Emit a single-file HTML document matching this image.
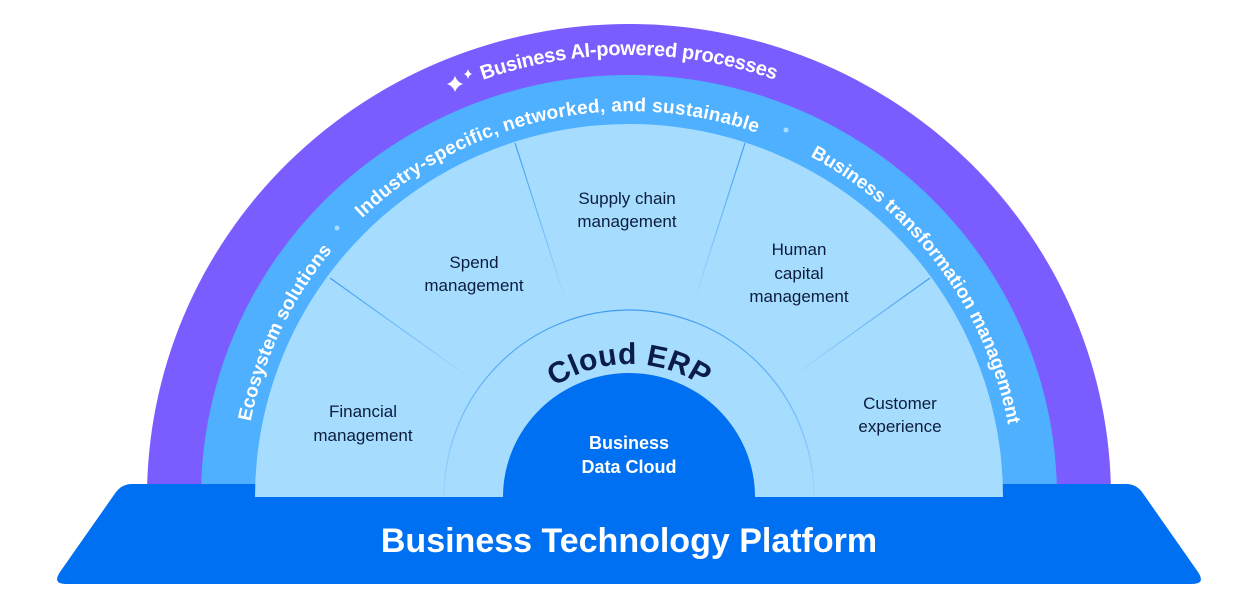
<!DOCTYPE html>
<html><head><meta charset="utf-8"><style>
html,body{margin:0;padding:0;background:#fff;}
svg{display:block;}
text{font-family:"Liberation Sans",sans-serif;}
</style></head><body>
<svg width="1248" height="612" viewBox="0 0 1248 612" xmlns="http://www.w3.org/2000/svg">
<defs>
<path id="pP" d="M187,497 A442,442 0 0 1 1071,497"/>
<path id="pB" d="M243,497 A386,386 0 0 1 1015,497"/>
<path id="pC" d="M496,497 A133,133 0 0 1 762,497"/>
<linearGradient id="g1" gradientUnits="userSpaceOnUse" x1="515" y1="143" x2="567" y2="305"><stop offset="0" stop-color="#3f9bf0"/><stop offset="1" stop-color="#3f9bf0" stop-opacity="0"/></linearGradient>
<linearGradient id="g2" gradientUnits="userSpaceOnUse" x1="745" y1="143" x2="693" y2="305"><stop offset="0" stop-color="#3f9bf0"/><stop offset="1" stop-color="#3f9bf0" stop-opacity="0"/></linearGradient>
<linearGradient id="g3" gradientUnits="userSpaceOnUse" x1="330" y1="278" x2="470" y2="378"><stop offset="0" stop-color="#3f9bf0"/><stop offset="1" stop-color="#3f9bf0" stop-opacity="0"/></linearGradient>
<linearGradient id="g4" gradientUnits="userSpaceOnUse" x1="930" y1="278" x2="790" y2="378"><stop offset="0" stop-color="#3f9bf0"/><stop offset="1" stop-color="#3f9bf0" stop-opacity="0"/></linearGradient>
<linearGradient id="g5" gradientUnits="userSpaceOnUse" x1="0" y1="310" x2="0" y2="497"><stop offset="0" stop-color="#3f9bf0"/><stop offset="1" stop-color="#3f9bf0" stop-opacity="0.1"/></linearGradient>
</defs>
<!-- bands -->
<path d="M147,497 A482,473 0 0 1 1111,497 Z" fill="#7b5cff"/>
<path d="M201,497 A428,422 0 0 1 1057,497 Z" fill="#4eb0ff"/>
<!-- base -->
<path d="M132,484 L1126,484 Q1136,484 1142,492 L1198,572 Q1206,584 1192,584 L66,584 Q52,584 60,572 L116,492 Q122,484 132,484 Z" fill="#0070f2"/>
<path d="M255,497 A374,373 0 0 1 1003,497 Z" fill="#a6ddff"/>
<!-- dividers -->
<line x1="515" y1="143" x2="567" y2="305" stroke="url(#g1)" stroke-width="1.2"/>
<line x1="745" y1="143" x2="693" y2="305" stroke="url(#g2)" stroke-width="1.2"/>
<line x1="330" y1="278" x2="470" y2="378" stroke="url(#g3)" stroke-width="1.2"/>
<line x1="930" y1="278" x2="790" y2="378" stroke="url(#g4)" stroke-width="1.2"/>
<path d="M444,497 A185,187 0 0 1 814,497" fill="none" stroke="url(#g5)" stroke-width="1.2"/>
<!-- BDC -->
<path d="M503,497 A126,124 0 0 1 755,497 Z" fill="#0070f2"/>
<text x="629" y="552" text-anchor="middle" font-size="34" font-weight="bold" fill="#fff">Business Technology Platform</text>
<!-- curved texts -->
<text font-size="20" font-weight="bold" fill="#fff"><textPath href="#pP" startOffset="50%" text-anchor="middle" textLength="298" lengthAdjust="spacing">Business AI-powered processes</textPath></text>
<g transform="rotate(-12.2 629 497)"><text font-size="19" font-weight="bold" fill="#fff"><textPath href="#pB" startOffset="50%" text-anchor="middle" textLength="425" lengthAdjust="spacing">Industry-specific, networked, and sustainable</textPath></text></g>
<g transform="rotate(-64.5 629 497)"><text font-size="19" font-weight="bold" fill="#fff"><textPath href="#pB" startOffset="50%" text-anchor="middle" textLength="192" lengthAdjust="spacing">Ecosystem solutions</textPath></text></g>
<g transform="rotate(53.6 629 497)"><text font-size="19" font-weight="bold" fill="#fff"><textPath href="#pB" startOffset="50%" text-anchor="middle" textLength="345" lengthAdjust="spacing">Business transformation management</textPath></text></g>
<text font-size="30" font-weight="bold" fill="#0b1c4a"><textPath href="#pC" startOffset="50%" text-anchor="middle" textLength="158" lengthAdjust="spacing">Cloud ERP</textPath></text>
<!-- dots -->
<circle cx="337" cy="228" r="2.5" fill="#a6ddff"/>
<circle cx="786" cy="130" r="2.5" fill="#a6ddff"/>
<!-- sparkles -->
<path d="M455,76 Q457,82 463,84 Q457,86 455,92 Q453,86 447,84 Q453,82 455,76 Z" fill="#fff"/>
<path d="M468,69 Q469,73 472,74 Q469,75 468,79 Q467,75 464,74 Q467,73 468,69 Z" fill="#fff"/>
<!-- labels -->
<g font-size="17" fill="#0b1c3d" text-anchor="middle">
<text x="363" y="417">Financial</text><text x="363" y="441">management</text>
<text x="474" y="268">Spend</text><text x="474" y="291">management</text>
<text x="627" y="204">Supply chain</text><text x="627" y="227">management</text>
<text x="799" y="255">Human</text><text x="799" y="279">capital</text><text x="799" y="302">management</text>
<text x="900" y="409">Customer</text><text x="900" y="432">experience</text>
</g>
<g font-size="18" font-weight="bold" fill="#fff" text-anchor="middle">
<text x="629" y="449">Business</text><text x="629" y="473">Data Cloud</text>
</g>
</svg>
</body></html>
